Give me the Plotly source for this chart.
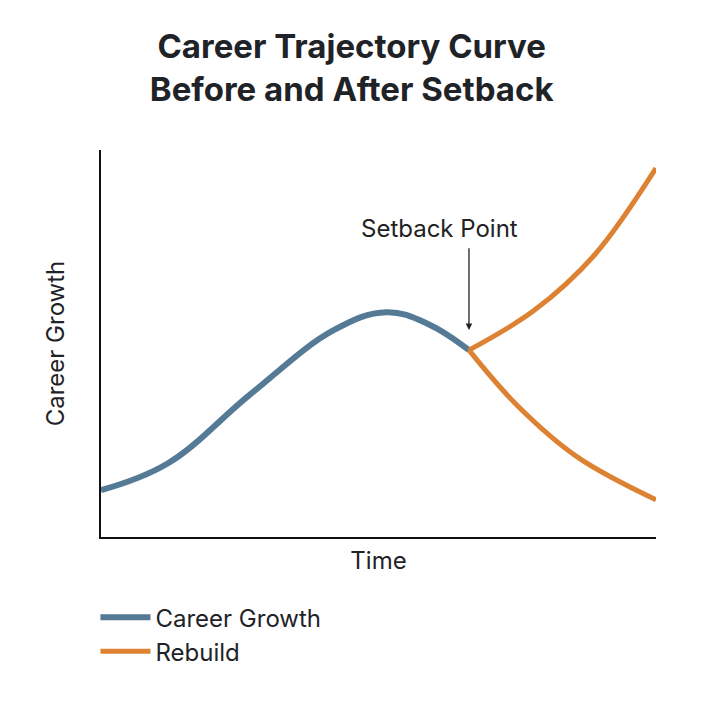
import plotly.graph_objects as go

# data (x: time 0-10, y: growth 0-10)
growth_x = [0, 1.2, 2.7, 4.2, 5.14, 5.9, 6.63]
growth_y = [1.21, 1.9, 3.7, 5.35, 5.81, 5.5, 4.83]
rebuild_up_x = [6.63, 7.8, 8.9, 10]
rebuild_up_y = [4.83, 5.85, 7.3, 9.53]
rebuild_down_x = [6.63, 7.5, 8.6, 10]
rebuild_down_y = [4.83, 3.4, 2.05, 0.96]

blue = '#557a95'
orange = '#dc8232'

fig = go.Figure()
fig.add_trace(go.Scatter(x=growth_x, y=growth_y, mode='lines', name='Career Growth',
                         line=dict(color=blue, width=6, shape='spline', smoothing=1.1)))
fig.add_trace(go.Scatter(x=rebuild_up_x, y=rebuild_up_y, mode='lines', name='Rebuild',
                         line=dict(color=orange, width=5, shape='spline')))
fig.add_trace(go.Scatter(x=rebuild_down_x, y=rebuild_down_y, mode='lines', name='Rebuild',
                         showlegend=False, line=dict(color=orange, width=5, shape='spline')))

fig.add_annotation(x=6.63, y=5.35, ax=6.63, ay=7.5, xref='x', yref='y', axref='x', ayref='y',
                   text='', showarrow=True, arrowhead=2, arrowwidth=1.3, arrowcolor='#222')
fig.add_annotation(x=6.1, y=7.55, text='Setback Point', showarrow=False, yanchor='bottom',
                   font=dict(size=24, color='#222'))

fig.update_layout(
    width=716, height=716,
    margin=dict(l=93, r=68, t=142, b=187),
    paper_bgcolor='white', plot_bgcolor='white',
    font=dict(family='Inter', color='#1f2328'),
    title=dict(text='<b>Career Trajectory Curve<br>Before and After Setback</b>',
               x=0.48, xanchor='center', y=0.93, yanchor='top', font=dict(size=33)),
    xaxis=dict(range=[0, 10], showticklabels=False, showgrid=False, zeroline=False,
               showline=True, linecolor='#111', linewidth=2,
               title=dict(text='Time', font=dict(size=24), standoff=14)),
    yaxis=dict(range=[0, 10], showticklabels=False, showgrid=False, zeroline=False,
               showline=True, linecolor='#111', linewidth=2,
               title=dict(text='Career Growth', font=dict(size=24), standoff=28)),
    legend=dict(x=-0.01, y=-0.15, xanchor='left', yanchor='top', font=dict(size=24),
                orientation='v', itemwidth=50, tracegroupgap=12),
)

fig.write_html('out.html')
